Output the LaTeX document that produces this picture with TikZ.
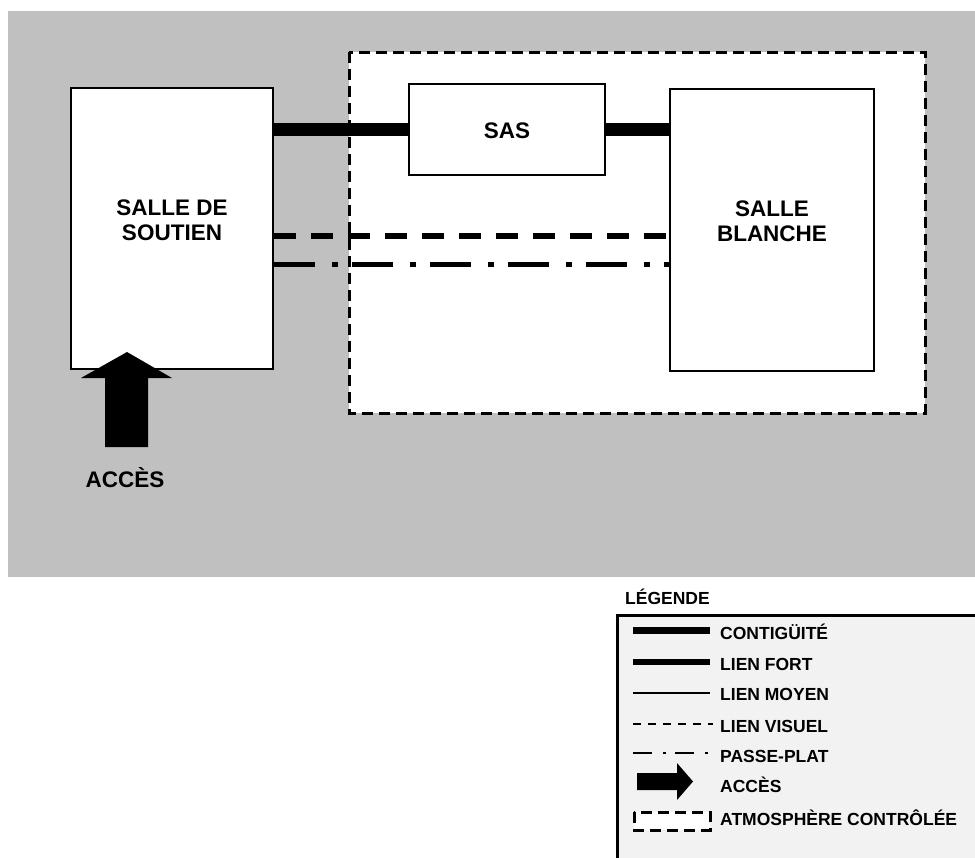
\documentclass[tikz,border=0pt]{standalone}
\usepackage{fontspec}
\setmainfont{Liberation Sans}
\usetikzlibrary{calc}
\definecolor{bggray}{HTML}{C0C0C0}
\definecolor{leggray}{HTML}{F2F2F2}
\newcommand\mainfnt{\fontsize{22.5bp}{25bp}\selectfont\bfseries}
\newcommand\legfnt{\fontsize{17.5bp}{20bp}\selectfont\bfseries}
\begin{document}
\begin{tikzpicture}[x=1bp,y=-1bp,
  roombox/.style={draw, line width=2bp, fill=white, inner sep=0pt},
  mainlbl/.style={font=\mainfnt, align=center, inner sep=0pt},
  leglbl/.style={font=\legfnt, anchor=base west, inner sep=0pt},
  atmos/.style={draw, fill=white, line width=3bp, dash pattern=on 11bp off 6bp},
  contig/.style={line width=13bp},
  contigleg/.style={line width=7bp},
  fortleg/.style={line width=5.5bp},
  moyenleg/.style={line width=2bp},
  visuel/.style={line width=6bp, dash pattern=on 22bp off 15bp},
  visuelleg/.style={line width=2bp, dash pattern=on 8bp off 7bp},
  passe/.style={line width=5bp, dash pattern=on 41bp off 17bp on 6bp off 14bp},
  passeleg/.style={line width=2bp, dash pattern=on 19bp off 11bp on 3bp off 9bp},
  accesarrow/.style={fill=black}
]
\useasboundingbox (0,0) rectangle (975,858);
% background
\fill[bggray] (8,11) rectangle (975,577);
% controlled atmosphere
\draw[atmos] (349,52) rectangle (925,413);
% rooms
\node[roombox, minimum width=202bp, minimum height=281bp] (soutien) at (172,228.5) {};
\node[roombox, minimum width=196bp, minimum height=91bp] (sas) at (507,129.5) {};
\node[roombox, minimum width=204bp, minimum height=282bp] (blanche) at (772,230) {};
\node[mainlbl] (soutienlbl) at (172,220) {SALLE DE\\SOUTIEN};
\node[mainlbl] (saslbl) at (507,131) {SAS};
\node[mainlbl] (blanchelbl) at (772,221) {SALLE\\BLANCHE};
% links
\coordinate (yv) at (0,236);
\coordinate (yp) at (0,264);
\draw[contig] (sas.west) -- (sas.west -| soutien.east);
\draw[contig] (sas.east) -- (sas.east -| blanche.west);
\draw[visuel] (soutien.east |- yv) -- (blanche.west |- yv);
\draw[passe] (soutien.east |- yp) -- (blanche.west |- yp);
% access arrow
\fill[accesarrow] (105,447) -- (105,378) -- (81,378) -- (127,352) -- (172,378) -- (148,378) -- (148,447) -- cycle;
\node[mainlbl, anchor=base] (acceslbl) at (125,487) {ACCÈS};
% legend
\node[leglbl] (legtitle) at (625,604) {LÉGENDE};
\draw[line width=3bp, fill=leggray] (617,615) rectangle (995,880);
\draw[contigleg] (633,630) -- (710,630);
\draw[fortleg] (633,662) -- (710,662);
\draw[moyenleg] (633,693) -- (710,693);
\draw[visuelleg] (633,724) -- (713,724);
\draw[passeleg] (633,753) -- (713,753);
\fill[accesarrow] (637,773) -- (677,773) -- (677,763) -- (693,781.5) -- (677,800) -- (677,790) -- (637,790) -- cycle;
\draw[atmos] (634,812) rectangle (710,830);
\node[leglbl] (l1) at (720,639) {CONTIGÜITÉ};
\node[leglbl] (l2) at (720,670) {LIEN FORT};
\node[leglbl] (l3) at (720,700) {LIEN MOYEN};
\node[leglbl] (l4) at (720,732) {LIEN VISUEL};
\node[leglbl] (l5) at (720,762) {PASSE-PLAT};
\node[leglbl] (l6) at (720,792) {ACCÈS};
\node[leglbl] (l7) at (720,825) {ATMOSPHÈRE CONTRÔLÉE};
\end{tikzpicture}
\end{document}
